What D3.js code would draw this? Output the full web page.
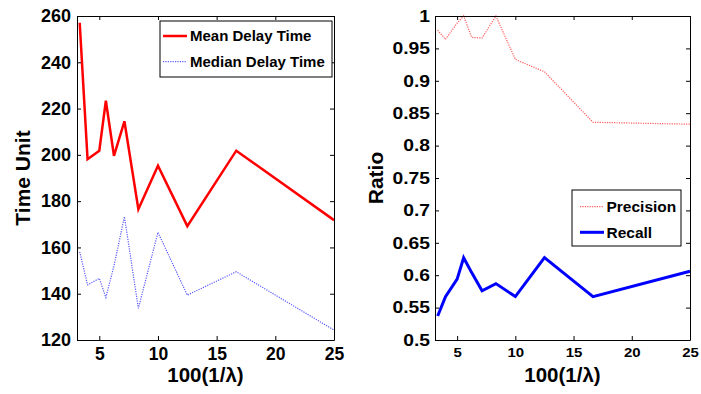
<!DOCTYPE html>
<html>
<head>
<meta charset="utf-8">
<script src="https://cdn.jsdelivr.net/npm/d3@7"></script>
<style>
  html, body { margin: 0; padding: 0; background: #fff; }
  svg { display: block; }
  text { font-family: "Liberation Sans", Arial, Helvetica, sans-serif; font-weight: bold; fill: #000; }
</style>
</head>
<body>
<svg id="chart" width="701" height="394"></svg>
<script>
// x = 100(1/lambda)
const xValues = [3.33, 4, 5, 5.56, 6.25, 7.14, 8.33, 10, 12.5, 16.67, 25];
const meanDelay = [257.1, 198.1, 201.8, 223.4, 199.6, 214.5, 176.5, 195.3, 169.2, 201.8, 171.8];
const medianDelay = [158.1, 143.8, 146.6, 138.4, 152.0, 173.3, 133.7, 166.5, 139.4, 149.5, 124.3];
const precision = [0.978, 0.964, 0.989, 1.0, 0.967, 0.966, 1.0, 0.933, 0.914, 0.836, 0.833];
const recall = [0.537, 0.567, 0.594, 0.627, 0.604, 0.576, 0.587, 0.567, 0.627, 0.567, 0.606];

const xTicks = [5, 10, 15, 20, 25];
const timeTicks = [120, 140, 160, 180, 200, 220, 240, 260];
const ratioTicks = [0.5, 0.55, 0.6, 0.65, 0.7, 0.75, 0.8, 0.85, 0.9, 0.95, 1];

const svg = d3.select("#chart");

function panel(cfg) {
  const g = svg.append("g");
  const x = d3.scaleLinear().domain([3.1, 25]).range([cfg.left, cfg.right]);
  const y = d3.scaleLinear().domain(cfg.yDomain).range([cfg.bottom, cfg.top]);
  const tick = 4;

  // series
  const line = vals => d3.line().x((d, i) => x(xValues[i])).y(d => y(d))(vals);
  cfg.series.forEach(s => {
    g.append("path")
      .attr("d", line(s.values))
      .attr("fill", "none")
      .attr("stroke", s.color)
      .attr("stroke-width", s.width)
      .attr("stroke-dasharray", s.dash || null)
      .attr("stroke-linejoin", "miter");
  });

  // box axes with inward ticks
  const bottomAxis = d3.axisBottom(x).tickValues(xTicks).tickFormat(d3.format("d"))
    .tickSizeInner(-tick).tickSizeOuter(0).tickPadding(cfg.xPad);
  const leftAxis = d3.axisLeft(y).tickValues(cfg.yTicks).tickFormat(cfg.yFormat)
    .tickSizeInner(-tick).tickSizeOuter(0).tickPadding(cfg.yPad);
  const topAxis = d3.axisTop(x).tickValues(xTicks).tickFormat("")
    .tickSizeInner(-tick).tickSizeOuter(0);
  const rightAxis = d3.axisRight(y).tickValues(cfg.yTicks).tickFormat("")
    .tickSizeInner(-tick).tickSizeOuter(0);

  const gb = g.append("g").attr("transform", `translate(0,${cfg.bottom})`).call(bottomAxis);
  const gl = g.append("g").attr("transform", `translate(${cfg.left},0)`).call(leftAxis);
  g.append("g").attr("transform", `translate(0,${cfg.top})`).call(topAxis);
  g.append("g").attr("transform", `translate(${cfg.right},0)`).call(rightAxis);

  g.selectAll(".domain").attr("stroke", "#000").attr("stroke-width", 1);
  g.selectAll(".tick line").attr("stroke", "#000").attr("stroke-width", 1);
  g.selectAll("text").attr("font-family", null);

  gb.selectAll("text")
    .style("font-size", cfg.xFont + "px")
    .attr("fill", "#000")
    .attr("transform", `scale(${cfg.xStretch},1)`);
  gl.selectAll("text")
    .style("font-size", cfg.yFont + "px")
    .attr("fill", "#000")
    .attr("x", -cfg.yPad / cfg.yStretch)
    .attr("transform", `scale(${cfg.yStretch},1)`);

  // axis titles
  g.append("text")
    .attr("x", (cfg.left + cfg.right) / 2)
    .attr("y", 382)
    .attr("text-anchor", "middle")
    .style("font-size", "20.5px")
    .text("100(1/λ)");
  g.append("text")
    .attr("transform", `translate(${cfg.yTitleX},178) rotate(-90)`)
    .attr("text-anchor", "middle")
    .style("font-size", "21px")
    .text(cfg.yTitle);

  // legend
  const L = cfg.legend;
  const lg = g.append("g");
  lg.append("rect")
    .attr("x", L.x).attr("y", L.y).attr("width", L.w).attr("height", L.h)
    .attr("fill", "#fff").attr("stroke", "#000").attr("stroke-width", 1);
  cfg.series.forEach((s, i) => {
    const cy = L.rows[i];
    lg.append("line")
      .attr("x1", L.lineX0).attr("x2", L.lineX1)
      .attr("y1", cy).attr("y2", cy)
      .attr("stroke", s.color)
      .attr("stroke-width", s.width)
      .attr("stroke-dasharray", s.dash || null);
    lg.append("text")
      .attr("x", L.textX)
      .attr("y", cy + 5.3)
      .style("font-size", L.font + "px")
      .text(s.name);
  });
}

panel({
  left: 77, right: 334, top: 16, bottom: 340,
  yDomain: [120, 260], yTicks: timeTicks, yFormat: d3.format("d"),
  xPad: 8, yPad: 6, xFont: 17.5, yFont: 18, xStretch: 1, yStretch: 1,
  yTitle: "Time Unit", yTitleX: 30,
  series: [
    { name: "Mean Delay Time", values: meanDelay, color: "#ff0000", width: 2.5 },
    { name: "Median Delay Time", values: medianDelay, color: "#5a5aff", width: 1.2, dash: "1.2,1.2" }
  ],
  legend: { x: 160, y: 21, w: 172, h: 56, rows: [36, 61.7], lineX0: 163, lineX1: 187, textX: 190, font: 15 }
});

panel({
  left: 435, right: 690, top: 16, bottom: 340,
  yDomain: [0.5, 1], yTicks: ratioTicks, yFormat: d => String(+d.toFixed(2)),
  xPad: 8, yPad: 5, xFont: 12.5, yFont: 16.5, xStretch: 1.2, yStretch: 1.17,
  yTitle: "Ratio", yTitleX: 383,
  series: [
    { name: "Precision", values: precision, color: "#ff5a5a", width: 1.2, dash: "1.2,1.2" },
    { name: "Recall", values: recall, color: "#0000ff", width: 3 }
  ],
  legend: { x: 572, y: 190, w: 109, h: 56, rows: [206.7, 232.3], lineX0: 580, lineX1: 604, textX: 606.5, font: 15.5 }
});
</script>
</body>
</html>
